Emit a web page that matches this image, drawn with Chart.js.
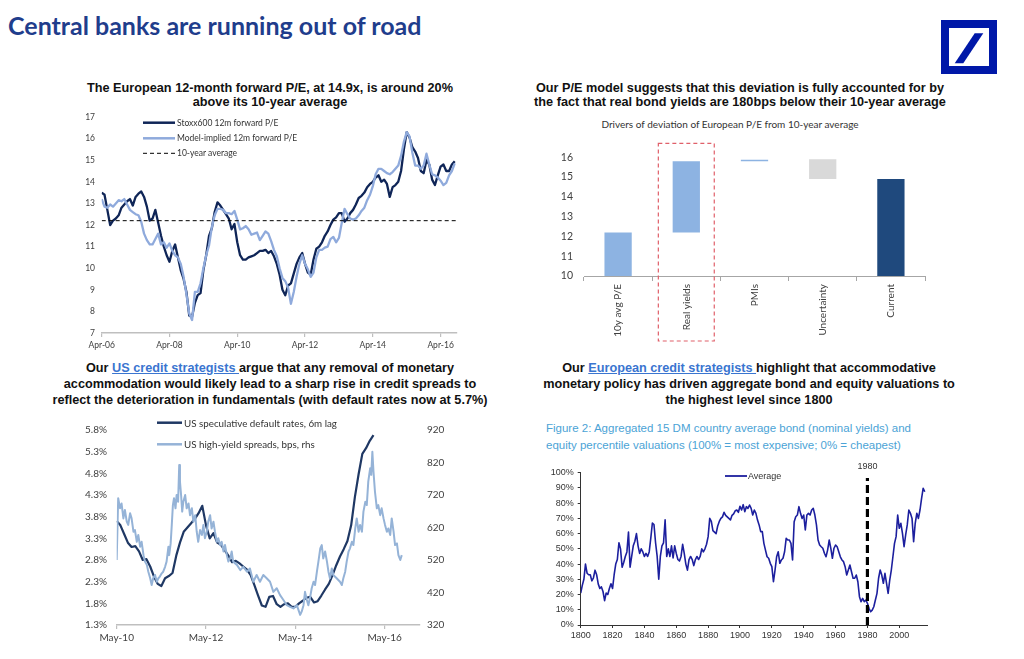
<!DOCTYPE html>
<html>
<head>
<meta charset="utf-8">
<title>Central banks are running out of road</title>
<script src="https://cdn.jsdelivr.net/npm/chart.js@4.4.1/dist/chart.umd.min.js"></script>
<style>
  html, body { margin:0; padding:0; background:#ffffff; }
  body { position:relative; width:1024px; height:659px; overflow:hidden; font-family:"Liberation Sans", Arial, sans-serif; color:#111; }
  .abs { position:absolute; }
  .main-title { left:8px; top:10px; font-family:Lato, sans-serif; font-weight:700; font-size:25px; line-height:30px; color:#1f3d8c; white-space:nowrap; }
  .ptitle { position:absolute; font-weight:700; font-size:12.7px; text-align:center; white-space:nowrap; color:#111; }
  .link { color:#3a75d0; text-decoration:underline; }
  .caption { position:absolute; font-size:11.5px; color:#4ba3d6; line-height:17px; white-space:nowrap; }
  .lg { position:absolute; white-space:nowrap; color:#333; }
  .sub { position:absolute; font-family:Lato, sans-serif; font-size:10px; color:#333; white-space:nowrap; text-align:center; }
  canvas { position:absolute; }
  svg { position:absolute; overflow:visible; }
</style>
</head>
<body>

<div class="abs main-title">Central banks are running out of road</div>

<!-- logo -->
<div class="abs" style="left:941px;top:20px;width:56px;height:54px;box-sizing:border-box;border:8px solid #0018a8;background:#fff;"></div>
<svg style="left:941px;top:20px" width="56" height="54"><polygon points="13.7,43.3 22.3,43.3 42.3,13.3 33.7,13.3" fill="#0018a8"/></svg>

<!-- panel titles -->
<div class="ptitle" style="left:40px;top:81px;width:460px;line-height:14px;">The European 12-month forward P/E, at 14.9x, is around 20%<br>above its 10-year average</div>
<div class="ptitle" style="left:510px;top:81px;width:460px;line-height:14px;">Our P/E model suggests that this deviation is fully accounted for by<br>the fact that real bond yields are 180bps below their 10-year average</div>
<div class="ptitle" style="left:30px;top:360px;width:480px;line-height:16px;">Our <span class="link">US credit strategists </span>argue that any removal of monetary<br>accommodation would likely lead to a sharp rise in credit spreads to<br>reflect the deterioration in fundamentals (with default rates now at 5.7%)</div>
<div class="ptitle" style="left:509px;top:360px;width:480px;line-height:16px;">Our <span class="link">European credit strategists </span>highlight that accommodative<br>monetary policy has driven aggregate bond and equity valuations to<br>the highest level since 1800</div>

<div class="sub" style="left:560px;top:118px;width:340px;line-height:12px;">Drivers of deviation of European P/E from 10-year average</div>
<div class="caption" style="left:546px;top:420px;">Figure 2: Aggregated 15 DM country average bond (nominal yields) and<br>equity percentile valuations (100% = most expensive; 0% = cheapest)</div>

<canvas id="c1" width="440" height="255" style="left:40px;top:105px;width:440px;height:255px;"></canvas>
<canvas id="c2" width="420" height="215" style="left:540px;top:135px;width:420px;height:215px;"></canvas>
<canvas id="c3" width="440" height="240" style="left:40px;top:410px;width:440px;height:240px;"></canvas>
<canvas id="c4" width="440" height="195" style="left:520px;top:455px;width:440px;height:195px;"></canvas>

<!-- legends -->
<svg style="left:0;top:0" width="1" height="1">
  <line x1="143" y1="122.7" x2="175" y2="122.7" stroke="#0f2557" stroke-width="2.5"/>
  <line x1="143" y1="138.3" x2="175" y2="138.3" stroke="#8faadc" stroke-width="2.5"/>
  <line x1="143" y1="153.3" x2="175" y2="153.3" stroke="#000" stroke-width="1" stroke-dasharray="4,3"/>
  <line x1="157" y1="422.7" x2="182" y2="422.7" stroke="#1f3864" stroke-width="2.5"/>
  <line x1="157" y1="444.3" x2="182" y2="444.3" stroke="#95b3d7" stroke-width="2.5"/>
  <line x1="725" y1="476" x2="747" y2="476" stroke="#1c1f9e" stroke-width="1.8"/>
</svg>
<div class="lg" style="left:177px;top:116.7px;line-height:12px;font-family:Lato,sans-serif;font-size:8.5px;">Stoxx600 12m forward P/E</div>
<div class="lg" style="left:177px;top:132.3px;line-height:12px;font-family:Lato,sans-serif;font-size:8.5px;">Model-implied 12m forward P/E</div>
<div class="lg" style="left:177px;top:147.3px;line-height:12px;font-family:Lato,sans-serif;font-size:8.5px;">10-year average</div>
<div class="lg" style="left:184px;top:416.7px;line-height:12px;font-family:Lato,sans-serif;font-size:9.8px;">US speculative default rates, 6m lag</div>
<div class="lg" style="left:184px;top:438.3px;line-height:12px;font-family:Lato,sans-serif;font-size:9.8px;">US high-yield spreads, bps, rhs</div>
<div class="lg" style="left:748px;top:470px;line-height:12px;font-size:9px;">Average</div>

<script>
// ---------------- DATA ----------------
// Chart 1: European 12m forward P/E, monthly from Apr-06
const peTickLabels = ['Apr-06','Apr-08','Apr-10','Apr-12','Apr-14','Apr-16'];
const stoxxPE = [
  13.5, 13.4, 12.7, 12.0, 12.2, 12.3, 12.45, 12.8, 12.95, 13.1,
  13.2, 12.9, 13.3, 13.45, 13.55, 13.3, 12.85, 12.2, 12.3, 12.7,
  12.1, 11.5, 11.0, 10.6, 10.3, 10.8, 11.1, 10.5, 9.9, 9.5,
  8.9, 7.8, 7.75, 8.4, 8.75, 8.85, 9.9, 10.6, 11.5, 11.85,
  12.6, 13.05, 12.9, 12.7, 12.5, 12.3, 11.8, 12.05, 11.2, 10.6,
  10.4, 10.4, 10.5, 10.55, 10.6, 10.7, 10.8, 10.8, 10.85, 10.7,
  10.8, 10.55, 10.2, 9.7, 9.0, 8.75, 9.2, 9.3, 9.75, 10.2,
  10.5, 10.7, 10.2, 9.8, 9.7, 10.4, 10.9, 11.0, 11.2, 11.5,
  11.7, 12.0, 12.25, 12.35, 12.55, 12.55, 12.15, 12.3, 12.55, 12.7,
  12.95, 13.25, 13.35, 13.5, 13.75, 13.9, 14.0, 14.2, 14.3, 14.0,
  14.1, 13.9, 13.3, 13.75, 13.85, 14.0, 14.5, 15.5, 16.3, 16.05,
  15.6, 15.4, 15.1, 14.5, 14.4, 15.0, 14.8, 14.1, 13.85, 14.3,
  14.7, 14.8, 14.5, 14.5, 14.8, 14.95
];
const modelPE = [
  13.2, 12.85, 12.8, 12.95, 12.85, 13.0, 13.15, 13.1, 13.2, 12.95,
  12.7, 12.6, 12.5, 12.45, 12.15, 11.6, 11.3, 11.1, 11.1, 11.35,
  11.6, 11.1, 11.2, 10.95, 11.15, 10.8, 10.6, 10.5, 10.2, 9.6,
  8.8, 7.9, 7.6, 8.9, 8.9, 9.3, 10.0, 10.6, 11.05, 11.9,
  12.45, 12.75, 12.75, 12.7, 12.55, 12.55, 12.5, 12.65, 12.25, 11.8,
  11.85, 11.95, 11.8, 11.55, 11.6, 11.65, 11.3, 11.5, 11.7, 11.6,
  11.25, 10.85, 10.55, 10.0, 9.55, 9.4, 9.1, 8.35, 8.9, 9.6,
  10.2, 10.6, 10.2, 9.95, 9.6, 9.8, 10.5, 10.85, 10.85, 10.95,
  11.0, 11.35, 11.45, 11.2, 11.4, 12.1, 12.75, 12.5, 12.3, 12.25,
  12.3, 12.45, 12.65, 12.8, 13.15, 13.4, 13.8, 14.35, 14.6, 14.6,
  14.5, 14.4, 14.35, 14.45, 14.6, 14.75, 15.2, 15.85, 16.3, 16.1,
  15.35, 14.75, 14.75, 14.6, 14.75, 15.3, 14.8, 14.35, 14.3, 14.2,
  14.05, 13.85, 13.95, 14.3, 14.5, 14.85
];
const tenYearAvgPE = 12.2;

// Chart 2: drivers of deviation (floating bars low/high)
const driverCategories = ['10y avg P/E', 'Real yields', 'PMIs', 'Uncertainty', 'Current'];
const driverLow  = [10, 12.2, 15.8, 14.9, 10];
const driverHigh = [12.2, 15.8, 15.87, 15.9, 14.9];
const driverTicks = [10, 11, 12, 13, 14, 15, 16];

// Chart 3: US credit (months since May-10)
const creditTickLabels = ['May-10', 'May-12', 'May-14', 'May-16'];
const defaultRateTicks = [1.3, 1.8, 2.3, 2.8, 3.3, 3.8, 4.3, 4.8, 5.3, 5.8];
const spreadTicks = [320, 420, 520, 620, 720, 820, 920];
const defaultRates = [
  3.70, 3.6, 3.4, 3.2, 3.1, 3.12, 3.0, 2.8, 2.82, 2.65,
  2.42, 2.25, 2.2, 2.38, 2.43, 2.5, 2.9, 3.2, 3.45, 3.55,
  3.65, 3.75, 3.88, 4.05, 3.6, 3.3, 3.42, 3.2, 3.15, 3.03,
  2.9, 2.75, 2.78, 2.72, 2.65, 2.58, 2.45, 2.22, 1.98, 1.75,
  1.72, 1.95, 1.97, 1.78, 1.72, 1.78, 1.8, 1.72, 1.72, 1.8,
  1.86, 1.93, 1.95, 1.82, 1.85, 1.98, 2.12, 2.25, 2.45, 2.68,
  2.88, 3.05, 3.24, 3.6, 4.25, 4.78, 5.25, 5.38, 5.55, 5.68
];
const hyMonths = [
  0, 0.4, 0.9, 1.3, 1.8, 2.2, 2.7, 3.1, 3.6, 4.0, 4.5, 4.9, 5.4, 5.8, 6.3, 6.7, 7.2, 7.6, 8.1, 8.5,
  9.0, 9.4, 9.8, 10.3, 10.8, 11.2, 11.6, 12.1, 12.5, 13.0, 13.4, 13.9, 14.1, 14.5, 14.8, 15.1, 15.4, 15.8, 16.1, 16.5,
  16.8, 17.0, 17.3, 17.6, 17.9, 18.4, 18.8, 19.3, 19.7, 20.2, 20.6, 21.1, 21.5, 21.9, 22.4, 22.9, 23.3, 23.7, 24.2, 24.6,
  25.1, 25.5, 26.0, 26.4, 26.9, 27.3, 27.8, 28.2, 28.7, 29.1, 29.6, 30.0, 30.5, 30.9, 31.3, 32.3, 33.2, 34.0, 35.0, 35.8,
  36.7, 37.6, 38.5, 39.4, 40.3, 41.2, 42.1, 43.0, 43.9, 44.8, 45.7, 46.6, 47.5, 48.4, 49.3, 49.7, 50.2, 50.6, 51.1, 51.5,
  52.0, 52.4, 52.9, 53.3, 53.8, 54.2, 54.7, 55.1, 55.5, 56.0, 56.5, 56.9, 57.3, 57.8, 58.2, 59.1, 60.0, 60.5, 60.9, 61.4,
  61.8, 62.3, 62.7, 63.2, 63.6, 64.1, 64.5, 65.0, 65.4, 65.9, 66.3, 66.8, 67.2, 67.6, 68.1, 68.4, 68.7, 69.0, 69.4, 69.9,
  70.3, 70.8, 71.2, 71.7, 72.1, 72.6, 73.0, 73.5, 73.9, 74.4, 74.8, 75.3, 75.7, 76.2, 76.6
];
const hySpreads = [
  520, 710, 679, 694, 648, 674, 638, 628, 664, 648, 607, 612, 576, 597, 561, 576, 535, 515, 505, 484,
  464, 443, 464, 474, 453, 464, 469, 479, 484, 499, 515, 561, 535, 571, 628, 689, 710, 679, 720, 699,
  812, 761, 720, 669, 699, 720, 679, 694, 658, 679, 638, 658, 607, 576, 612, 597, 628, 587, 607, 638,
  658, 617, 638, 607, 576, 587, 566, 576, 546, 566, 535, 515, 525, 546, 515, 505, 489, 499, 484, 494,
  453, 474, 453, 474, 464, 453, 422, 433, 412, 397, 381, 376, 371, 381, 351, 361, 381, 422, 397, 381,
  407, 433, 453, 443, 484, 515, 556, 566, 525, 546, 515, 484, 464, 494, 474, 464, 453, 443, 464, 484,
  515, 546, 556, 576, 566, 617, 648, 607, 628, 607, 669, 699, 689, 761, 802, 782, 853, 792, 730, 679,
  689, 658, 679, 648, 628, 607, 617, 597, 648, 607, 566, 571, 535, 520, 535
];

// Chart 4: aggregated valuation percentile, annual from 1800
const valuationStartYear = 1800;
const valuationTickYears = [1800, 1820, 1840, 1860, 1880, 1900, 1920, 1940, 1960, 1980, 2000];
const averageValuation = [
  21, 26, 30, 40, 34, 33, 33, 29, 31, 36,
  33, 27, 24, 25, 22, 16, 21, 20, 24, 27,
  24, 33, 40, 43, 54, 50, 38, 41, 45, 48,
  61, 38, 45, 52, 55, 60, 52, 47, 50, 48,
  45, 47, 45, 48, 57, 67, 66, 54, 45, 30,
  45, 52, 54, 69, 45, 50, 45, 52, 44, 52,
  47, 43, 42, 45, 53, 47, 40, 36, 43, 45,
  43, 39, 43, 45, 43, 45, 50, 48, 50, 53,
  58, 70, 68, 62, 61, 60, 65, 68, 70, 71,
  74, 72, 71, 70, 69, 72, 73, 75, 75.5, 74,
  78, 75.5, 79, 74.4, 77.7, 76.6, 78.8, 76.6, 72.2, 75.5,
  73.3, 68.9, 65.7, 61.3, 61.3, 53.6, 49.2, 44.8, 43.8, 40.5,
  38.3, 28.4, 36.1, 44.8, 48.1, 40.5, 42.7, 43.8, 48.1, 56.9,
  55.8, 55.8, 53.6, 42.7, 67.8, 71.1, 72.2, 77.7, 73.3, 70,
  72.2, 62.4, 72.2, 73.3, 72.2, 75.5, 76.6, 72.2, 65.7, 55.8,
  52.5, 51.4, 50.4, 47.1, 44.8, 49.2, 55.8, 50.4, 43.8, 50.4,
  52.5, 51.4, 48.1, 44.8, 42.7, 41.6, 38.3, 32.8, 36.1, 39.4,
  35, 30.7, 30.7, 32.8, 28.4, 18.6, 15.3, 17.5, 15.3, 16.4,
  14.2, 11, 8.7, 9.8, 12, 16.4, 20.8, 30.7, 36.1, 32.8,
  27.4, 33.9, 27.4, 20.8, 29.5, 36.1, 44.8, 53.6, 58, 72.2,
  63.5, 66.8, 60.2, 51.4, 59.1, 65.7, 75.5, 73.3, 70, 54.7,
  66.8, 73.3, 70, 75.5, 83.2, 89.8, 87.5
];
const markerYear = 1980;
const markerTop = 96.5;

// ---------------- CHARTS ----------------
const common = {
  responsive: false,
  animation: false,
  plugins: { legend: { display: false }, tooltip: { enabled: false } }
};
const calib = (size) => ({ family: 'Lato, sans-serif', size: size });

// Chart 1
new Chart(document.getElementById('c1'), {
  type: 'line',
  data: { datasets: [
    { label: '10-year average', data: [{x: 0, y: tenYearAvgPE}, {x: 125.7, y: tenYearAvgPE}],
      borderColor: '#000', borderWidth: 1, borderDash: [4, 3], pointRadius: 0, order: 1 },
    { label: 'Model-implied 12m forward P/E', data: modelPE.map((v, i) => ({x: i, y: v})),
      borderColor: '#8faadc', borderWidth: 2.3, pointRadius: 0, order: 2, borderJoinStyle: 'round' },
    { label: 'Stoxx600 12m forward P/E', data: stoxxPE.map((v, i) => ({x: i, y: v})),
      borderColor: '#0f2557', borderWidth: 2.3, pointRadius: 0, order: 3, borderJoinStyle: 'round' }
  ]},
  options: Object.assign({}, common, {
    layout: { padding: { top: 12, right: 23.3, bottom: 0, left: 0 } },
    scales: {
      x: { type: 'linear', min: 0, max: 125.7,
        afterBuildTicks: s => { s.ticks = peTickLabels.map((_, i) => ({ value: i * 24 })); },
        ticks: { callback: v => peTickLabels[Math.round(v / 24)], font: calib(8.5), color: '#404040', padding: 3, maxRotation: 0, autoSkip: false },
        grid: { drawOnChartArea: false, tickLength: 4, color: '#bfbfbf', lineWidth: 1.2 },
        border: { color: '#bfbfbf', width: 1.5 },
        afterFit: s => { s.height = 27; } },
      y: { min: 7, max: 17,
        ticks: { stepSize: 1, font: calib(8.5), color: '#404040', padding: 6.7 },
        grid: { display: false, drawTicks: false },
        border: { display: false },
        afterFit: s => { s.width = 61.7; } }
    }
  })
});

// Chart 2
const redBox = {
  id: 'redBox',
  afterDraw(chart) {
    const xs = chart.scales.x, ys = chart.scales.y, ctx = chart.ctx;
    const cx = xs.getPixelForValue(1);
    const w = (xs.getPixelForValue(1) - xs.getPixelForValue(0)) * 0.82;
    const top = ys.getPixelForValue(16.7);
    const bottom = chart.chartArea.bottom + 65;
    ctx.save();
    ctx.strokeStyle = '#e0606a';
    ctx.lineWidth = 1.2;
    ctx.setLineDash([4, 3]);
    ctx.strokeRect(cx - w / 2, top, w, bottom - top);
    ctx.restore();
  }
};
new Chart(document.getElementById('c2'), {
  type: 'bar',
  data: { labels: driverCategories, datasets: [{
    data: driverLow.map((l, i) => [l, driverHigh[i]]),
    backgroundColor: ['#8db3e2', '#8db3e2', '#8db3e2', '#d9d9d9', '#1f497d'],
    borderWidth: 0, categoryPercentage: 1, barPercentage: 0.4
  }]},
  options: Object.assign({}, common, {
    layout: { padding: { top: 22.3, right: 35, bottom: 0, left: 0 } },
    scales: {
      x: { ticks: { font: calib(10), color: '#404040', minRotation: 90, maxRotation: 90, padding: 3 },
        grid: { drawOnChartArea: false, tickLength: 5, color: '#a6a6a6', offset: true },
        border: { color: '#a6a6a6', width: 1 },
        afterFit: s => { s.height = 74; } },
      y: { min: 10, max: 16,
        afterBuildTicks: s => { s.ticks = driverTicks.map(v => ({ value: v })); },
        ticks: { font: calib(10.5), color: '#404040', padding: 11 },
        grid: { display: false, drawTicks: false },
        border: { display: false },
        afterFit: s => { s.width = 44; } }
    }
  }),
  plugins: [redBox]
});

// Chart 3
new Chart(document.getElementById('c3'), {
  type: 'line',
  data: { datasets: [
    { label: 'US high-yield spreads, bps, rhs', data: hyMonths.map((m, i) => ({x: m, y: hySpreads[i]})),
      yAxisID: 'y1', borderColor: '#95b3d7', borderWidth: 2, pointRadius: 0, order: 1, borderJoinStyle: 'round' },
    { label: 'US speculative default rates, 6m lag', data: defaultRates.map((v, i) => ({x: i, y: v})),
      yAxisID: 'y', borderColor: '#1f3864', borderWidth: 2.2, pointRadius: 0, order: 2, borderJoinStyle: 'round' }
  ]},
  options: Object.assign({}, common, {
    layout: { padding: { top: 20, right: 0, bottom: 0, left: 0 } },
    scales: {
      x: { type: 'linear', min: 0, max: 81.5,
        afterBuildTicks: s => { s.ticks = creditTickLabels.map((_, i) => ({ value: i * 24 })); },
        ticks: { callback: v => creditTickLabels[Math.round(v / 24)], font: calib(10), color: '#404040', padding: 3, maxRotation: 0, autoSkip: false },
        grid: { drawOnChartArea: false, tickLength: 4, color: '#bfbfbf', lineWidth: 1.2 },
        border: { color: '#bfbfbf', width: 1.5 },
        afterFit: s => { s.height = 25; } },
      y: { position: 'left', min: 1.3, max: 5.8,
        afterBuildTicks: s => { s.ticks = defaultRateTicks.map(v => ({ value: v })); },
        ticks: { callback: v => v.toFixed(1) + '%', font: calib(10), color: '#404040', padding: 9.7 },
        grid: { display: false, drawTicks: false },
        border: { display: false },
        afterFit: s => { s.width = 76.7; } },
      y1: { position: 'right', min: 320, max: 920,
        afterBuildTicks: s => { s.ticks = spreadTicks.map(v => ({ value: v })); },
        ticks: { font: calib(10), color: '#404040', padding: 7 },
        grid: { display: false, drawTicks: false },
        border: { display: false },
        afterFit: s => { s.width = 60; } }
    }
  })
});

// Chart 4
const markerLabel = {
  id: 'markerLabel',
  afterDraw(chart) {
    const ctx = chart.ctx;
    const x = chart.scales.x.getPixelForValue(markerYear);
    ctx.save();
    ctx.font = '9px "Liberation Sans", Arial, sans-serif';
    ctx.fillStyle = '#333';
    ctx.textAlign = 'center';
    ctx.textBaseline = 'middle';
    ctx.fillText(String(markerYear), x, chart.chartArea.top - 5.7);
    ctx.restore();
  }
};
const arialFont = { family: '"Liberation Sans", Arial, sans-serif', size: 9 };
new Chart(document.getElementById('c4'), {
  type: 'line',
  data: { datasets: [
    { label: String(markerYear), data: [{x: markerYear, y: 0}, {x: markerYear, y: markerTop}],
      borderColor: '#000', borderWidth: 3.2, borderDash: [8, 4], pointRadius: 0, order: 1 },
    { label: 'Average', data: averageValuation.map((v, i) => ({x: valuationStartYear + i, y: v})),
      borderColor: '#1c1f9e', borderWidth: 1.6, pointRadius: 0, order: 2, borderJoinStyle: 'round' }
  ]},
  options: Object.assign({}, common, {
    layout: { padding: { top: 17.7, right: 33, bottom: 0, left: 0 } },
    scales: {
      x: { type: 'linear', min: 1800, max: 2017.4,
        afterBuildTicks: s => { s.ticks = valuationTickYears.map(v => ({ value: v })); },
        ticks: { callback: v => String(v), font: arialFont, color: '#333', padding: 2, maxRotation: 0, autoSkip: false },
        grid: { drawOnChartArea: false, tickLength: 3, color: '#333' },
        border: { color: '#333', width: 1 },
        afterFit: s => { s.height = 25; } },
      y: { min: 0, max: 100,
        ticks: { stepSize: 10, callback: v => v + '%', font: arialFont, color: '#333', padding: 4 },
        grid: { drawOnChartArea: false, tickLength: 3, color: '#333' },
        border: { color: '#333', width: 1 },
        afterFit: s => { s.width = 60.7; } }
    }
  }),
  plugins: [markerLabel]
});
</script>
</body>
</html>
